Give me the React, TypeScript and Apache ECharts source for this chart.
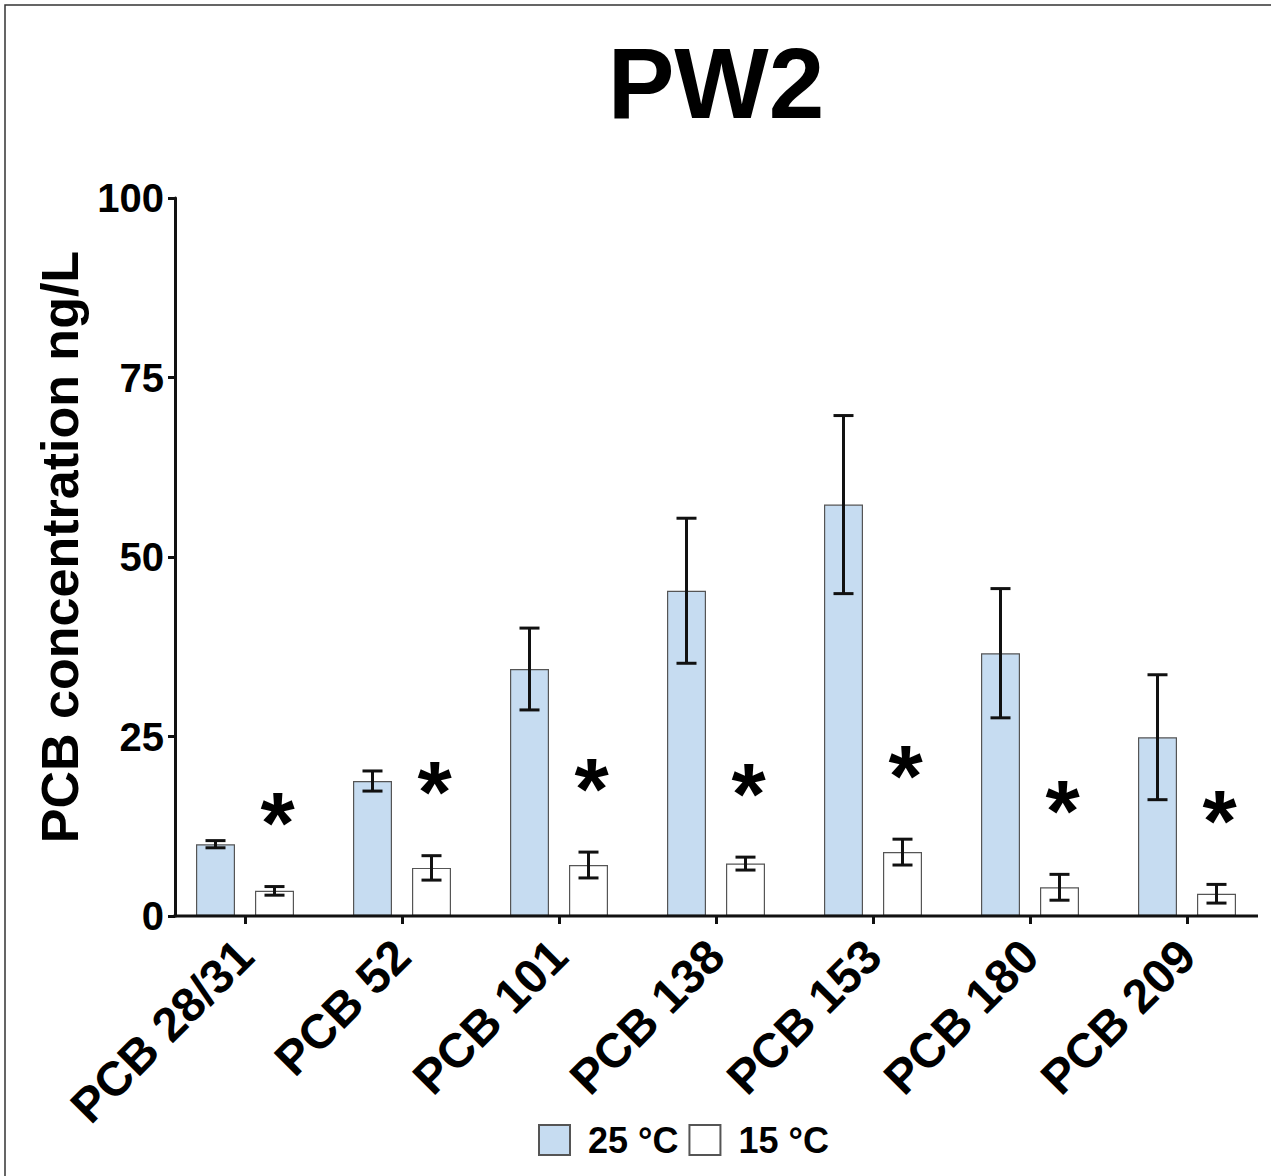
import React, { useEffect, useRef } from "react";
import * as echarts from "echarts";

const categories = ["PCB 28/31", "PCB 52", "PCB 101", "PCB 138", "PCB 153", "PCB 180", "PCB 209"];
const mean25 = [10.0, 18.8, 34.4, 45.3, 57.3, 36.6, 24.9];
const err25 = [0.5, 1.4, 5.7, 10.1, 12.4, 9.0, 8.7];
const mean15 = [3.5, 6.7, 7.1, 7.3, 8.9, 4.0, 3.1];
const err15 = [0.6, 1.7, 1.8, 0.9, 1.8, 1.8, 1.3];
const yTicks = [0, 25, 50, 75, 100];
const seriesNames = ["25 °C", "15 °C"];

const FONT = "'Liberation Sans', Arial, Helvetica, sans-serif";
const BLUE = "#c6dcf1";
const BORDER = "#555555";
const INK = "#111111";

const W = 1271;
const H = 1176;
const BAR_W = 39;
const BAR_GAP = 20;
const OFF = (BAR_W + BAR_GAP) / 2;

function errorSeries(name: string, means: number[], errs: number[], dx: number, star: boolean) {
  return {
    name: name + " err",
    type: "custom",
    z: 5,
    silent: true,
    encode: { x: 0, y: 1 },
    data: means.map((m, i) => [i, m, errs[i]]),
    renderItem: (params: any, api: any) => {
      const idx = api.value(0);
      const m = api.value(1);
      const e = api.value(2);
      const c = api.coord([idx, m]);
      const x = c[0] + dx;
      const top = api.coord([idx, m + e])[1];
      const bot = api.coord([idx, m - e])[1];
      const half = 10;
      const st = { stroke: INK, lineWidth: 3 };
      const children: any[] = [
        { type: "line", shape: { x1: x, y1: top, x2: x, y2: bot }, style: st },
        { type: "line", shape: { x1: x - half, y1: top, x2: x + half, y2: top }, style: st },
        { type: "line", shape: { x1: x - half, y1: bot, x2: x + half, y2: bot }, style: st },
      ];
      if (star) {
        children.push({
          type: "text",
          x: x + 3,
          y: top - 64,
          style: {
            text: "*",
            font: `bold 88px ${FONT}`,
            fill: "#000",
            textAlign: "center",
            textVerticalAlign: "middle",
          },
        });
      }
      return { type: "group", children };
    },
  };
}

export default function App() {
  const ref = useRef<HTMLDivElement>(null);
  useEffect(() => {
    if (!ref.current) return;
    const chart = echarts.init(ref.current, null, { renderer: "svg" });
    const gridLeft = 166.5;
    const gridRight = 5.5;
    const gridTop = 198;
    const gridBottom = H - 916;
    chart.setOption({
      animation: false,
      backgroundColor: "#ffffff",
      textStyle: { fontFamily: FONT },
      title: {
        text: "PW2",
        left: 711,
        top: 28,
        textAlign: "center",
        textStyle: { fontFamily: FONT, fontWeight: "bold", fontSize: 100, color: "#000" },
      },
      legend: {
        data: seriesNames,
        left: 538,
        top: 1122,
        padding: 0,
        itemWidth: 31,
        itemHeight: 30,
        itemGap: 10,
        icon: "rect",
        textStyle: {
          fontFamily: FONT,
          fontWeight: "bold",
          fontSize: 36,
          color: "#000",
          lineHeight: 30,
          padding: [0, 0, 0, 13],
        },
      },
      grid: { left: gridLeft, right: gridRight, top: gridTop, bottom: gridBottom, containLabel: false },
      xAxis: {
        type: "category",
        data: categories,
        axisLine: { show: false },
        axisTick: { show: true, alignWithLabel: true, length: 8, lineStyle: { color: INK, width: 3 } },
        axisLabel: {
          rotate: 45,
          margin: 32,
          fontFamily: FONT,
          fontWeight: "bold",
          fontSize: 48,
          color: "#000",
          interval: 0,
        },
      },
      yAxis: {
        type: "value",
        min: 0,
        max: 100,
        interval: 25,
        offset: -8.5,
        name: "PCB concentration ng/L",
        nameLocation: "middle",
        nameGap: 88,
        nameTextStyle: {
          fontFamily: FONT,
          fontWeight: "bold",
          fontSize: 52,
          color: "#000",
          padding: [0, 0, 0, 20],
        },
        splitLine: { show: false },
        axisLine: { show: true, lineStyle: { color: INK, width: 3 } },
        axisTick: { show: true, length: 7, lineStyle: { color: INK, width: 3 } },
        axisLabel: {
          margin: 11,
          fontFamily: FONT,
          fontWeight: "bold",
          fontSize: 40,
          color: "#000",
          formatter: (v: number) => (yTicks.includes(v) ? String(v) : ""),
        },
      },
      graphic: [
        {
          type: "rect",
          shape: { x: 5, y: 5, width: W + 50, height: H + 50 },
          style: { fill: "none", stroke: "#333", lineWidth: 1.5 },
          silent: true,
          z: 0,
        },
        {
          type: "line",
          shape: { x1: 173.5, y1: 916, x2: 1258, y2: 916 },
          style: { stroke: INK, lineWidth: 3 },
          z: 10,
          silent: true,
        },
      ],
      series: [
        {
          name: seriesNames[0],
          type: "bar",
          data: mean25,
          barWidth: BAR_W,
          barGap: `${(BAR_GAP / BAR_W) * 100}%`,
          itemStyle: { color: BLUE, borderColor: BORDER, borderWidth: 1.2 },
          z: 2,
        },
        {
          name: seriesNames[1],
          type: "bar",
          data: mean15,
          barWidth: BAR_W,
          barGap: `${(BAR_GAP / BAR_W) * 100}%`,
          itemStyle: { color: "#ffffff", borderColor: BORDER, borderWidth: 1.2 },
          z: 2,
        },
        errorSeries(seriesNames[0], mean25, err25, -OFF, false),
        errorSeries(seriesNames[1], mean15, err15, OFF, true),
      ],
    });
    return () => chart.dispose();
  }, []);
  return (
    <div
      ref={ref}
      style={{ position: "fixed", left: 0, top: 0, width: W, height: H, background: "#fff" }}
    />
  );
}
